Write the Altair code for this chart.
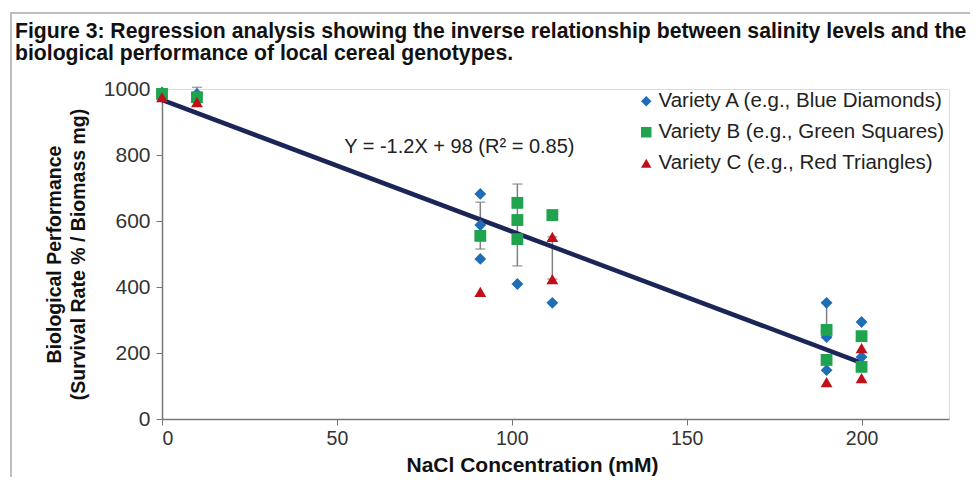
import altair as alt
import pandas as pd

# ---- data ----
series_names = [
    "Variety A (e.g., Blue Diamonds)",
    "Variety B (e.g., Green Squares)",
    "Variety C (e.g., Red Triangles)",
]
a_x = [0, 10, 91, 91, 91, 101.6, 111.6, 190, 190, 190, 200, 200]
a_y = [990, 985, 682, 588, 485, 409, 352, 352, 248, 148, 294, 188]
b_x = [0, 10, 91, 101.6, 101.6, 101.6, 111.6, 190, 190, 200, 200]
b_y = [985, 975, 555, 655, 603, 545, 618, 270, 179, 251, 158]
c_x = [0, 10, 91, 111.6, 111.6, 190, 200, 200]
c_y = [975, 960, 385, 552, 424, 112, 215, 124]

err_x = [10, 91, 101.6, 111.6, 190]
err_lo = [965, 515, 464, 424, 250]
err_hi = [1005, 657, 712, 552, 352]

fit_x = [0, 200]
fit_y = [967, 170]
fit_label = "Y = -1.2X + 98 (R\u00b2 = 0.85)"
fit_label_x = [85]
fit_label_y = [824]

x_ticks = [0, 50, 100, 150, 200]
y_ticks = [0, 200, 400, 600, 800, 1000]

title_lines = [
    "Figure 3: Regression analysis showing the inverse relationship between salinity levels and the",
    "biological performance of local cereal genotypes.",
]
x_title = "NaCl Concentration (mM)"
y_title = ["Biological Performance", "(Survival Rate % / Biomass mg)"]

colors = ["#1f6db5", "#1fa34f", "#c0101a"]
shapes = ["diamond", "square", "triangle-up"]

FONT = "Liberation Sans"

pts = pd.DataFrame(
    {"x": a_x + b_x + c_x,
     "y": a_y + b_y + c_y,
     "series": [series_names[0]] * len(a_x) + [series_names[1]] * len(b_x) + [series_names[2]] * len(c_x),
     "order": list(range(len(a_x) + len(b_x) + len(c_x)))}
)
err = pd.DataFrame({"x": err_x, "lo": err_lo, "hi": err_hi})
fit = pd.DataFrame({"x": fit_x, "y": fit_y})
lab = pd.DataFrame({"x": fit_label_x, "y": fit_label_y, "t": [fit_label]})

xs = alt.Scale(domain=[0, 225], nice=False, zero=False)
ys = alt.Scale(domain=[0, 1000], nice=False)

x_axis = alt.Axis(values=x_ticks, title=x_title, grid=False, tickSize=6, format="d",
                  labelFontSize=19.5, titleFontSize=21, titleFontWeight="bold",
                  labelFont=FONT, titleFont=FONT, labelColor="#333", titleColor="#111",
                  domainColor="#777", tickColor="#777", domainWidth=1.5, labelPadding=4,
                  titlePadding=7, titleX=370)
y_axis = alt.Axis(values=y_ticks, title=y_title, grid=False, tickSize=6, format="d",
                  labelFontSize=21, titleFontSize=19.5, titleFontWeight="bold",
                  labelFont=FONT, titleFont=FONT, labelColor="#333", titleColor="#111",
                  domainColor="#777", tickColor="#777", domainWidth=1.5, labelPadding=6,
                  titlePadding=15, titleLineHeight=24)

base_x = alt.X("x:Q", scale=xs, axis=x_axis)
base_y = alt.Y("y:Q", scale=ys, axis=y_axis)

err_rule = alt.Chart(err).mark_rule(color="#808080", strokeWidth=1.5).encode(
    x=alt.X("x:Q", scale=xs), y=alt.Y("lo:Q", scale=ys), y2="hi:Q")
err_cap_hi = alt.Chart(err).mark_tick(color="#808080", thickness=1.5, size=10, orient="horizontal").encode(
    x=alt.X("x:Q", scale=xs), y=alt.Y("hi:Q", scale=ys))
err_cap_lo = alt.Chart(err).mark_tick(color="#808080", thickness=1.5, size=10, orient="horizontal").encode(
    x=alt.X("x:Q", scale=xs), y=alt.Y("lo:Q", scale=ys))

points = alt.Chart(pts).mark_point(filled=True, opacity=1, size=140).encode(
    x=base_x, y=base_y,
    color=alt.Color("series:N", scale=alt.Scale(domain=series_names, range=colors),
                    legend=alt.Legend(title=None, orient="none", legendX=474, legendY=2,
                                      labelFontSize=20.5, labelFont=FONT, labelColor="#222",
                                      labelLimit=0,
                                      symbolSize=110, rowPadding=10, labelOffset=2,
                                      symbolStrokeWidth=0)),
    shape=alt.Shape("series:N", scale=alt.Scale(domain=series_names, range=shapes), legend=None),
    order="order:Q",
)

fit_line = alt.Chart(fit).mark_line(color="#1b2558", strokeWidth=4.5).encode(
    x=alt.X("x:Q", scale=xs), y=alt.Y("y:Q", scale=ys))

fit_text = alt.Chart(lab).mark_text(fontSize=20, font=FONT, color="#222", align="center",
                                   baseline="middle").encode(
    x=alt.X("x:Q", scale=xs), y=alt.Y("y:Q", scale=ys), text="t:N")

# figure title, drawn as text in the padding above the plot
title1 = alt.Chart(lab).mark_text(fontSize=21.2, font=FONT, fontWeight="bold", color="#111",
                                 align="left", baseline="middle").encode(
    x=alt.value(-147), y=alt.value(-57), text=alt.value(title_lines[0]))
title2 = alt.Chart(lab).mark_text(fontSize=21.2, font=FONT, fontWeight="bold", color="#111",
                                 align="left", baseline="middle").encode(
    x=alt.value(-147), y=alt.value(-35), text=alt.value(title_lines[1]))

# figure frame (decoration)
frame_left = alt.Chart(lab).mark_rule(color="#bdbdbd", strokeWidth=2).encode(
    x=alt.value(-151), y=alt.value(-76), y2=alt.value(400))
frame_top = alt.Chart(lab).mark_rule(color="#bdbdbd", strokeWidth=2).encode(
    x=alt.value(-152), x2=alt.value(820), y=alt.value(-76))

chart = alt.layer(
    frame_left, frame_top, title1, title2, err_rule, err_cap_hi, err_cap_lo, fit_line, points, fit_text
).properties(
    width=787, height=330,
    autosize=alt.AutoSizeParams(type="none"),
    padding={"left": 154, "top": 81, "right": 21, "bottom": 58},
).configure_view(stroke=None).configure(background="white")

chart.save("out.html", embed_options={"renderer": "svg", "actions": False})
